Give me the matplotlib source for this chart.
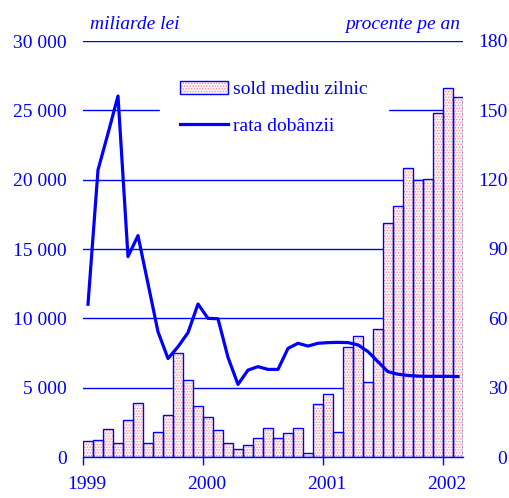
import numpy as np
import matplotlib
matplotlib.use("Agg")
import matplotlib.pyplot as plt
from matplotlib.patches import Patch
from matplotlib.lines import Line2D
from matplotlib.legend_handler import HandlerTuple

# ---- data ----
months = list(range(38))  # Jan 1999 .. Feb 2002
sold_mediu_zilnic = [1150, 1200, 2000, 1000, 2650, 3900, 1000, 1800, 3050, 7500,
                     5550, 3650, 2870, 1970, 1000, 550, 850, 1400, 2120, 1350,
                     1700, 2070, 270, 3800, 4520, 1830, 7930, 8720, 5430, 9230,
                     16890, 18120, 20820, 19950, 20030, 24780, 26590, 25990]
rata_dobanzii = [66.1, 124.2, 140.0, 156.2, 86.7, 95.8, 75.0, 54.2, 42.6, 47.7,
                 53.8, 66.2, 60.0, 59.8, 43.1, 31.4, 37.6, 39.1, 37.9, 37.9,
                 47.0, 49.2, 48.0, 49.2, 49.5, 49.6, 49.5, 48.5, 45.6, 41.2,
                 36.9, 35.8, 35.3, 35.0, 34.9, 34.9, 34.9, 34.8]
year_ticks = [0, 12, 24, 36]
year_labels = ["1999", "2000", "2001", "2002"]
left_ticks = [0, 5000, 10000, 15000, 20000, 25000, 30000]
left_labels = ["0", "5 000", "10 000", "15 000", "20 000", "25 000", "30 000"]
right_ticks = [0, 30, 60, 90, 120, 150, 180]
right_labels = ["0", "30", "60", "90", "120", "150", "180"]
series_names = ["sold mediu zilnic", "rata dobânzii"]
unit_left = "miliarde lei"
unit_right = "procente pe an"

BLUE = "#0000ff"
PINK = "#ff8c8c"
PINKFILL = "#fff4f4"
HATCH = "......"

plt.rcParams["font.family"] = ["Liberation Serif", "DejaVu Serif"]
plt.rcParams["hatch.linewidth"] = 0.6

W, H = 510, 498
fig = plt.figure(figsize=(W / 100, H / 100), dpi=100)
ax = fig.add_axes([83 / W, 1 - 457 / H, 380 / W, 416 / H])
ax2 = ax.twinx()

# bars: hatch layer + outline layer
ax.bar(months, sold_mediu_zilnic, width=1, align="edge", facecolor=PINKFILL,
       edgecolor=PINK, hatch=HATCH, linewidth=0, zorder=2)
ax.bar(months, sold_mediu_zilnic, width=1, align="edge", fill=False,
       edgecolor=BLUE, linewidth=1.0, zorder=3)

ax.set_xlim(0, 38)
ax.set_ylim(0, 30000)
ax2.set_ylim(0, 180)

ax.set_axisbelow(True)
ax.yaxis.grid(True, color=BLUE, linewidth=1.0)

for sp in ["left", "right", "top"]:
    ax.spines[sp].set_visible(False)
for sp in ax2.spines.values():
    sp.set_visible(False)
ax.spines["bottom"].set_color(BLUE)
ax.spines["bottom"].set_linewidth(1.0)

# x ticks: major marks at years, labels as minor ticks shifted slightly
ax.set_xticks(year_ticks)
ax.set_xticklabels([])
ax.tick_params(axis="x", which="major", direction="out", length=6, width=1,
               color=BLUE)
ax.set_xticks([t + 0.4 for t in year_ticks], minor=True)
ax.set_xticklabels(year_labels, minor=True)
ax.tick_params(axis="x", which="minor", length=0, pad=14, labelsize=14,
               labelcolor=BLUE)

ax.set_yticks(left_ticks)
ax.set_yticklabels(left_labels)
ax.tick_params(axis="y", length=0, pad=11.5, labelsize=14, labelcolor=BLUE)

ax2.set_yticks(right_ticks)
ax2.set_yticklabels(right_labels)
ax2.tick_params(axis="y", length=0, pad=32, labelsize=14, labelcolor=BLUE)
for lab in ax2.get_yticklabels():
    lab.set_horizontalalignment("right")

# line
ax2.plot([m + 0.5 for m in months], rata_dobanzii, color=BLUE, linewidth=2.3,
         zorder=5)

# unit labels
fig.text(90 / W, 1 - 29 / H, unit_left, fontsize=14, style="italic",
         color=BLUE, ha="left", va="baseline")
fig.text(460 / W, 1 - 29 / H, unit_right, fontsize=14, style="italic",
         color=BLUE, ha="right", va="baseline")

bar_handle = (Patch(facecolor=PINKFILL, edgecolor=PINK, hatch=HATCH, linewidth=0),
              Patch(fill=False, edgecolor=BLUE, linewidth=1.0))
line_handle = Line2D([0], [0], color=BLUE, linewidth=2.3)
leg = ax2.legend([bar_handle, line_handle], series_names, loc="upper left",
                 bbox_to_anchor=(160 / W, 1 - 61 / H),
                 bbox_transform=fig.transFigure, borderaxespad=0,
                 fontsize=14, frameon=True, fancybox=False, framealpha=1,
                 facecolor="white", edgecolor="white", handlelength=2.47,
                 handleheight=0.65, handletextpad=0.26, borderpad=1.03,
                 labelspacing=1.0, labelcolor=BLUE,
                 handler_map={tuple: HandlerTuple(ndivide=1)})
leg.set_zorder(10)

fig.savefig("out.png", dpi=100)
